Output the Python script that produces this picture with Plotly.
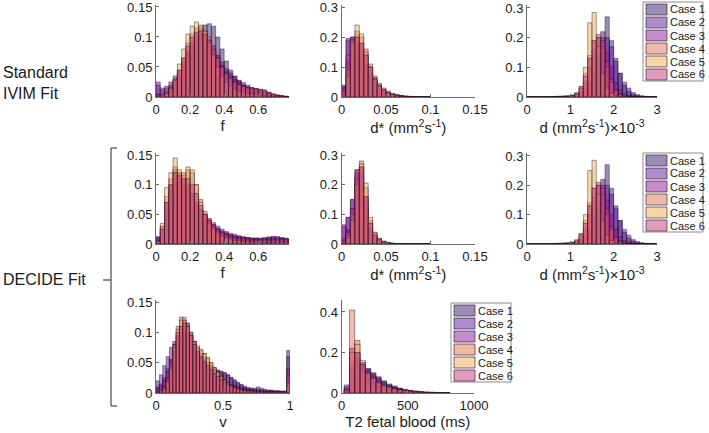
import numpy as np
import plotly.graph_objects as go

W, H = 709, 433

CASES = ["Case 1", "Case 2", "Case 3", "Case 4", "Case 5", "Case 6"]
COLORS = ["#35186f", "#5b189b", "#8c189b", "#e36f52", "#ecb252", "#c7357e"]

# ---------------- Standard IVIM fit: f (bin width 0.025, from 0) ----------------
F_STD_BIN = 0.025
F_STD = [
    [0.005,0.004,0.006,0.01,0.02,0.035,0.055,0.075,0.09,0.105,0.115,0.12,0.122,0.118,0.1,0.08,0.06,0.045,0.035,0.027,0.02,0.016,0.012,0.01,0.008,0.006,0.004,0.003,0.002,0.001,0,0],
    [0.02,0.012,0.015,0.02,0.03,0.04,0.055,0.07,0.085,0.095,0.1,0.1,0.095,0.085,0.07,0.058,0.047,0.04,0.034,0.028,0.024,0.02,0.016,0.013,0.01,0.008,0.006,0.004,0.003,0.002,0.001,0],
    [0.025,0.015,0.018,0.025,0.035,0.045,0.06,0.075,0.09,0.1,0.105,0.1,0.09,0.078,0.065,0.052,0.042,0.035,0.03,0.025,0.02,0.017,0.015,0.014,0.013,0.012,0.008,0.005,0.003,0.002,0.001,0],
    [0.003,0.003,0.005,0.01,0.02,0.04,0.065,0.09,0.105,0.115,0.118,0.11,0.1,0.085,0.065,0.05,0.038,0.03,0.024,0.02,0.017,0.015,0.014,0.013,0.012,0.01,0.007,0.005,0.003,0.002,0.001,0],
    [0.002,0.003,0.006,0.015,0.03,0.055,0.08,0.105,0.118,0.125,0.12,0.11,0.09,0.07,0.05,0.035,0.025,0.018,0.013,0.01,0.008,0.006,0.005,0.004,0.003,0.002,0.001,0.001,0,0,0,0],
    [0.004,0.005,0.008,0.015,0.028,0.045,0.065,0.085,0.1,0.108,0.11,0.105,0.095,0.08,0.065,0.05,0.04,0.032,0.026,0.021,0.018,0.016,0.015,0.014,0.012,0.01,0.007,0.005,0.003,0.002,0.001,0],
]

# ---------------- Standard IVIM fit: d* (bin width 0.005) ----------------
DSTAR_STD_BIN = 0.005
DSTAR_STD = [
    [0.035,0.12,0.18,0.2,0.18,0.14,0.1,0.065,0.04,0.025,0.015,0.01,0.007,0.005,0.003,0.002,0.001,0.001,0,0],
    [0.04,0.19,0.2,0.17,0.14,0.11,0.08,0.055,0.035,0.02,0.013,0.008,0.005,0.003,0.002,0.001,0.001,0,0,0],
    [0.03,0.195,0.2,0.18,0.15,0.11,0.075,0.05,0.03,0.02,0.012,0.008,0.005,0.003,0.002,0.001,0,0,0,0],
    [0.01,0.09,0.19,0.22,0.2,0.16,0.11,0.07,0.045,0.03,0.02,0.012,0.008,0.005,0.003,0.002,0.001,0,0,0],
    [0.005,0.07,0.18,0.24,0.21,0.15,0.1,0.06,0.035,0.02,0.012,0.007,0.004,0.002,0.001,0,0,0,0,0],
    [0.02,0.14,0.19,0.2,0.18,0.14,0.1,0.06,0.04,0.025,0.015,0.01,0.006,0.004,0.002,0.001,0,0,0,0],
]

# ---------------- d (x10^-3 mm2/s, bin width 0.1) — same in both fits ----------------
D_BIN = 0.1
D_VALS = [
    [0,0,0,0,0,0,0.002,0.003,0.004,0.005,0.007,0.01,0.015,0.03,0.05,0.09,0.15,0.22,0.27,0.19,0.13,0.08,0.04,0.02,0.01,0.005,0.003,0.002,0.001,0],
    [0,0,0,0,0,0,0,0,0,0,0,0,0.01,0.02,0.04,0.07,0.12,0.17,0.2,0.17,0.12,0.08,0.05,0.03,0.015,0.008,0.004,0.002,0.001,0],
    [0,0,0,0,0,0,0,0,0,0,0,0.008,0.02,0.05,0.1,0.16,0.2,0.2,0.15,0.1,0.05,0.025,0.012,0.006,0.003,0.001,0,0,0,0],
    [0,0,0,0,0,0,0,0,0,0,0.004,0.012,0.035,0.08,0.14,0.19,0.2,0.17,0.1,0.05,0.02,0.008,0.003,0.001,0,0,0,0,0,0],
    [0,0,0,0,0,0,0,0,0,0.002,0.005,0.015,0.035,0.1,0.25,0.285,0.17,0.08,0.03,0.012,0.005,0.002,0,0,0,0,0,0,0,0],
    [0,0,0,0,0,0,0,0,0,0,0.004,0.01,0.03,0.07,0.13,0.19,0.21,0.19,0.12,0.06,0.025,0.01,0.004,0.001,0,0,0,0,0,0],
]

# ---------------- DECIDE fit: f (bin width 0.025) ----------------
F_DEC_BIN = 0.025
F_DEC = [
    [0.01,0.03,0.07,0.1,0.125,0.12,0.11,0.1,0.085,0.07,0.055,0.045,0.035,0.03,0.025,0.02,0.018,0.015,0.013,0.012,0.011,0.01,0.009,0.009,0.008,0.008,0.009,0.01,0.01,0.009,0.008,0.007],
    [0.012,0.025,0.06,0.09,0.11,0.11,0.1,0.095,0.085,0.07,0.058,0.048,0.04,0.033,0.027,0.022,0.019,0.016,0.014,0.013,0.012,0.011,0.01,0.01,0.009,0.01,0.011,0.012,0.012,0.011,0.01,0.008],
    [0.012,0.02,0.05,0.08,0.1,0.1,0.095,0.09,0.08,0.068,0.058,0.05,0.043,0.036,0.03,0.025,0.021,0.018,0.016,0.014,0.012,0.011,0.01,0.01,0.01,0.011,0.012,0.013,0.012,0.01,0.009,0.008],
    [0.003,0.03,0.08,0.11,0.13,0.12,0.12,0.125,0.12,0.1,0.075,0.055,0.04,0.03,0.022,0.017,0.013,0.01,0.008,0.007,0.006,0.006,0.005,0.005,0.005,0.005,0.005,0.005,0.005,0.004,0.004,0.004],
    [0.005,0.035,0.095,0.12,0.145,0.125,0.115,0.13,0.125,0.1,0.07,0.05,0.035,0.025,0.018,0.013,0.01,0.008,0.006,0.005,0.004,0.004,0.003,0.003,0.003,0.003,0.003,0.003,0.003,0.003,0.003,0.003],
    [0.005,0.025,0.07,0.1,0.12,0.115,0.11,0.11,0.1,0.085,0.065,0.05,0.04,0.032,0.025,0.02,0.016,0.013,0.011,0.01,0.009,0.008,0.008,0.008,0.008,0.008,0.008,0.008,0.008,0.008,0.008,0.008],
]

# ---------------- DECIDE fit: d* (bin width 0.005) ----------------
DSTAR_DEC_BIN = 0.005
DSTAR_DEC = [
    [0.02,0.05,0.12,0.24,0.26,0.16,0.07,0.035,0.018,0.009,0.005,0.003,0.002,0.001,0,0,0,0,0,0],
    [0.06,0.09,0.15,0.22,0.24,0.14,0.055,0.025,0.012,0.006,0.003,0.002,0.001,0,0,0,0,0,0,0],
    [0.065,0.09,0.15,0.25,0.23,0.12,0.05,0.022,0.01,0.005,0.003,0.001,0,0,0,0,0,0,0,0],
    [0.005,0.03,0.1,0.22,0.28,0.19,0.08,0.038,0.018,0.008,0.004,0.002,0.001,0,0,0,0,0,0,0],
    [0.002,0.02,0.08,0.2,0.27,0.205,0.09,0.04,0.02,0.01,0.005,0.002,0.001,0,0,0,0,0,0,0],
    [0.01,0.04,0.12,0.25,0.26,0.16,0.07,0.03,0.015,0.007,0.003,0.002,0.001,0,0,0,0,0,0,0],
]

# ---------------- DECIDE fit: v (bin width 0.025) ----------------
V_BIN = 0.025
V_DEC = [
    [0.01,0.015,0.025,0.04,0.055,0.07,0.085,0.095,0.1,0.1,0.095,0.085,0.075,0.065,0.058,0.05,0.045,0.04,0.037,0.035,0.033,0.03,0.025,0.02,0.016,0.013,0.01,0.008,0.007,0.006,0.006,0.005,0.005,0.004,0.004,0.003,0.003,0.003,0.003,0.07],
    [0.02,0.03,0.045,0.06,0.075,0.085,0.095,0.1,0.098,0.09,0.08,0.07,0.062,0.055,0.05,0.045,0.042,0.04,0.038,0.036,0.034,0.03,0.026,0.022,0.018,0.014,0.011,0.009,0.008,0.008,0.01,0.008,0.006,0.005,0.005,0.004,0.004,0.003,0.003,0.06],
    [0.008,0.012,0.02,0.035,0.055,0.075,0.095,0.11,0.12,0.115,0.1,0.085,0.07,0.058,0.048,0.04,0.034,0.03,0.027,0.024,0.02,0.017,0.014,0.012,0.01,0.008,0.007,0.006,0.005,0.005,0.004,0.004,0.003,0.003,0.003,0.002,0.002,0.002,0.002,0.04],
    [0.002,0.004,0.008,0.02,0.045,0.08,0.11,0.125,0.125,0.115,0.1,0.085,0.075,0.07,0.065,0.058,0.05,0.042,0.035,0.028,0.022,0.017,0.013,0.01,0.008,0.006,0.005,0.004,0.003,0.003,0.002,0.002,0.002,0.001,0.001,0.001,0.001,0.001,0.001,0.02],
    [0.002,0.003,0.007,0.018,0.04,0.075,0.105,0.12,0.12,0.11,0.095,0.085,0.078,0.072,0.065,0.058,0.05,0.042,0.034,0.027,0.021,0.016,0.012,0.009,0.007,0.005,0.004,0.003,0.003,0.002,0.002,0.001,0.001,0.001,0.001,0.001,0.001,0.001,0.001,0.015],
    [0.003,0.005,0.01,0.025,0.05,0.08,0.1,0.11,0.115,0.11,0.095,0.08,0.068,0.06,0.052,0.045,0.038,0.032,0.027,0.022,0.018,0.014,0.011,0.009,0.007,0.006,0.005,0.004,0.004,0.003,0.003,0.003,0.002,0.002,0.002,0.002,0.002,0.002,0.002,0.03],
]

# ---------------- DECIDE fit: T2 fetal blood (ms, bins of 40 starting at 20) ----------------
T2_START = 20
T2_BIN = 40
T2_DEC = [
    [0.02,0.1,0.17,0.15,0.12,0.1,0.08,0.06,0.045,0.035,0.025,0.018,0.013,0.01,0.007,0.005,0.004,0.003,0,0],
    [0.04,0.13,0.17,0.14,0.12,0.095,0.075,0.055,0.04,0.03,0.022,0.016,0.012,0.009,0.006,0.004,0.003,0.002,0,0],
    [0.03,0.15,0.2,0.15,0.11,0.085,0.065,0.05,0.037,0.027,0.02,0.014,0.01,0.007,0.005,0.003,0.002,0.001,0,0],
    [0.01,0.41,0.26,0.11,0.06,0.04,0.028,0.02,0.015,0.011,0.008,0.006,0.004,0.003,0.002,0.001,0,0,0,0],
    [0.01,0.2,0.24,0.16,0.1,0.07,0.05,0.037,0.028,0.021,0.016,0.012,0.009,0.006,0.004,0.003,0.002,0.001,0,0],
    [0.02,0.22,0.2,0.14,0.1,0.075,0.055,0.04,0.03,0.022,0.016,0.012,0.009,0.006,0.004,0.003,0.002,0.001,0,0],
]

# tick values
F_TICKS = [0, 0.2, 0.4, 0.6]
DSTAR_TICKS = [0, 0.05, 0.1, 0.15]
D_TICKS = [0, 1, 2, 3]
V_TICKS = [0, 0.5, 1]
T2_TICKS = [0, 500, 1000]
Y015_TICKS = [0, 0.05, 0.1, 0.15]
Y03_TICKS = [0, 0.1, 0.2, 0.3]
YT2_TICKS = [0, 0.2, 0.4]


def centers(start, width, n):
    return start + width * (np.arange(n) + 0.5)


def rgba(hexc, a):
    h = hexc.lstrip("#")
    r, g, b = int(h[0:2], 16), int(h[2:4], 16), int(h[4:6], 16)
    return f"rgba({r},{g},{b},{a})"


def px_x(p):
    return p / W


def px_y(p):
    return 1 - p / H


# panels: (data, start, bin, xpx, ypx(top,bottom), xrange, yrange, xticks, yticks, title)
PANELS = [
    (F_STD, 0, F_STD_BIN, (156, 289), (5, 97), [0, 0.78], [0, 0.1533], F_TICKS, Y015_TICKS, "f"),
    (DSTAR_STD, 0, DSTAR_STD_BIN, (341.5, 475), (5, 97), [0, 0.15], [0, 0.3067], DSTAR_TICKS, Y03_TICKS,
     "d* (mm<sup>2</sup>s<sup>-1</sup>)"),
    (D_VALS, 0, D_BIN, (527, 657), (5, 97), [0, 3], [0, 0.31], D_TICKS, Y03_TICKS,
     "d (mm<sup>2</sup>s<sup>-1</sup>)×10<sup>-3</sup>"),
    (F_DEC, 0, F_DEC_BIN, (156, 289), (153, 244), [0, 0.78], [0, 0.1534], F_TICKS, Y015_TICKS, "f"),
    (DSTAR_DEC, 0, DSTAR_DEC_BIN, (341.5, 475), (153, 244), [0, 0.15], [0, 0.3068], DSTAR_TICKS, Y03_TICKS,
     "d* (mm<sup>2</sup>s<sup>-1</sup>)"),
    (D_VALS, 0, D_BIN, (527, 657), (153, 244), [0, 3], [0, 0.31], D_TICKS, Y03_TICKS,
     "d (mm<sup>2</sup>s<sup>-1</sup>)×10<sup>-3</sup>"),
    (V_DEC, 0, V_BIN, (156, 290), (300, 393), [0, 1], [0, 0.1533], V_TICKS, Y015_TICKS, "v"),
    (T2_DEC, T2_START, T2_BIN, (341.5, 474), (300, 393), [0, 1000], [0, 0.459], T2_TICKS, YT2_TICKS,
     "T2 fetal blood (ms)"),
]

FONT = "Liberation Sans, Arial, sans-serif"
AXCOL = "#6a6a6a"
TXT = "#1a1a1a"

fig = go.Figure()
layout = dict(
    width=W, height=H, margin=dict(l=0, r=0, t=0, b=0, autoexpand=False),
    paper_bgcolor="white", plot_bgcolor="white",
    barmode="overlay", showlegend=False,
    font=dict(family=FONT, color=TXT, size=12),
)

for k, (data, start, bw, xpx, ypx, xr, yr, xt, yt, title) in enumerate(PANELS):
    idx = "" if k == 0 else str(k + 1)
    for ci, series in enumerate(data):
        xs = centers(start, bw, len(series))
        fig.add_trace(go.Bar(
            x=xs, y=series, width=bw * 0.98, name=CASES[ci],
            marker=dict(color=rgba(COLORS[ci], 0.5),
                        line=dict(color="rgba(35,15,35,0.7)", width=0.6)),
            xaxis="x" + idx, yaxis="y" + idx, showlegend=False,
        ))
    layout["xaxis" + idx] = dict(
        domain=[px_x(xpx[0]), px_x(xpx[1])], range=xr, anchor="y" + idx, automargin=False,
        showline=True, linecolor=AXCOL, linewidth=1, ticks="inside", ticklen=3,
        tickcolor=AXCOL, tickvals=xt, showgrid=False, zeroline=False,
        ticklabeloverflow="allow",
        tickfont=dict(size=13, color=TXT),
        title=dict(text=title, font=dict(size=15, color=TXT), standoff=3),
    )
    layout["yaxis" + idx] = dict(
        domain=[px_y(ypx[1]), px_y(ypx[0])], range=yr, anchor="x" + idx, automargin=False,
        showline=True, linecolor=AXCOL, linewidth=1, ticks="inside", ticklen=3,
        tickcolor=AXCOL, tickvals=yt, showgrid=False, zeroline=False,
        ticklabeloverflow="allow",
        tickfont=dict(size=13, color=TXT),
    )

shapes = []
annotations = []

# manual legends (box + patches + labels)
LEGENDS = [(643, 2), (643, 153), (451, 303)]
for lx, ly in LEGENDS:
    shapes.append(dict(type="rect", xref="paper", yref="paper",
                       x0=px_x(lx), x1=px_x(lx + 60), y0=px_y(ly + 79), y1=px_y(ly),
                       line=dict(color="#8a8a8a", width=1), fillcolor="white"))
    for i, name in enumerate(CASES):
        cy = ly + 7.5 + 13 * i
        shapes.append(dict(type="rect", xref="paper", yref="paper",
                           x0=px_x(lx + 3), x1=px_x(lx + 24), y0=px_y(cy + 5.5), y1=px_y(cy - 5.5),
                           fillcolor=rgba(COLORS[i], 0.5),
                           line=dict(color="rgba(35,15,35,0.75)", width=0.8)))
        annotations.append(dict(text=name, xref="paper", yref="paper", x=px_x(lx + 25), y=px_y(cy),
                                xanchor="left", yanchor="middle", showarrow=False,
                                font=dict(size=11, color=TXT, family=FONT)))

# row labels
annotations.append(dict(text="Standard<br>IVIM Fit", xref="paper", yref="paper",
                        x=px_x(1), y=px_y(83), xanchor="left", yanchor="middle", align="left",
                        showarrow=False, font=dict(size=16, color=TXT, family=FONT)))
annotations.append(dict(text="DECIDE Fit", xref="paper", yref="paper",
                        x=px_x(1), y=px_y(279), xanchor="left", yanchor="middle", align="left",
                        showarrow=False, font=dict(size=16, color=TXT, family=FONT)))

# bracket
bx, btop, bbot, bmid = 111, 148, 406, 280
for seg in [((bx, btop), (bx, bbot)), ((bx, btop), (bx + 6, btop)), ((bx, bbot), (bx + 6, bbot)),
            ((bx - 8, bmid), (bx, bmid))]:
    (x0, y0), (x1, y1) = seg
    shapes.append(dict(type="line", xref="paper", yref="paper",
                       x0=px_x(x0), y0=px_y(y0), x1=px_x(x1), y1=px_y(y1),
                       line=dict(color="#555555", width=1.3)))

layout["shapes"] = shapes
layout["annotations"] = annotations
fig.update_layout(**layout)
fig.write_html("out.html", config={"displayModeBar": False},
               post_script="document.body.style.margin='0px';")
